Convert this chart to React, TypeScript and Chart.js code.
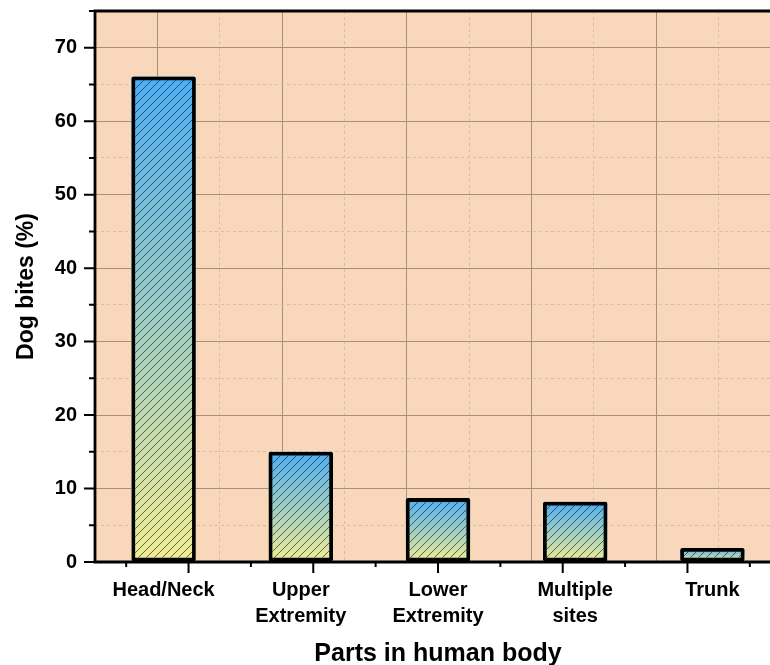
import React, { useEffect, useRef } from 'react';
import { Chart, registerables } from 'chart.js';

Chart.register(...registerables);

// ---- data ----
const categories: string[][] = [
  ['Head/Neck'],
  ['Upper', 'Extremity'],
  ['Lower', 'Extremity'],
  ['Multiple', 'sites'],
  ['Trunk'],
];
const biteShares: number[] = [66.1, 15.0, 8.7, 8.2, 1.9];
const yAxisMin = 0;
const yAxisMax = 75;
const yMinorStep = 5;
const yMajorStep = 10;
const xAxisTitle = 'Parts in human body';
const yAxisTitle = 'Dog bites (%)';

// ---- style ----
const FONT = "'Liberation Sans', Arial, Helvetica, sans-serif";
const PLOT_BG = '#F9D7BA';
const GRID_MAJOR = '#A88F7D';
const GRID_MINOR = '#D9BCA8';
const GRAD_TOP = '#4DAEF2';
const GRAD_BOTTOM = '#F1ED92';

const CANVAS_W = 781;
const CANVAS_H = 665;
const PLOT_TOP = 11;
const PLOT_BOTTOM = 562;
const PLOT_LEFT = 95;

function makeHatch(): CanvasPattern | string {
  const s = 8;
  const c = document.createElement('canvas');
  c.width = s;
  c.height = s;
  const g = c.getContext('2d');
  if (!g) return 'rgba(0,0,0,0)';
  g.strokeStyle = 'rgba(10,20,50,0.62)';
  g.lineWidth = 1;
  g.beginPath();
  g.moveTo(-1, s + 1);
  g.lineTo(s + 1, -1);
  g.moveTo(-1, 1);
  g.lineTo(1, -1);
  g.moveTo(s - 1, s + 1);
  g.lineTo(s + 1, s - 1);
  g.stroke();
  const p = g.createPattern(c, 'repeat');
  return p || 'rgba(0,0,0,0)';
}

const framePlugin = {
  id: 'framePlugin',
  beforeDraw(chart: any) {
    const { ctx, chartArea: a } = chart;
    if (!a) return;
    ctx.save();
    ctx.fillStyle = PLOT_BG;
    ctx.fillRect(a.left, a.top, a.right - a.left, a.bottom - a.top);
    ctx.restore();
  },
  afterDraw(chart: any) {
    const { ctx, chartArea: a, scales } = chart;
    if (!a) return;
    const y = scales.y;
    const x2 = scales.x2;
    ctx.save();
    ctx.strokeStyle = '#000';
    ctx.lineWidth = 2;
    ctx.beginPath();
    y.ticks.forEach((t: any) => {
      const p = y.getPixelForValue(t.value);
      const len = t.value % yMajorStep === 0 ? 11 : 6;
      ctx.moveTo(a.left - len, p);
      ctx.lineTo(a.left, p);
    });
    x2.ticks.forEach((t: any) => {
      const p = x2.getPixelForValue(t.value);
      const len = Number.isInteger(t.value) ? 11 : 5;
      ctx.moveTo(p, a.bottom);
      ctx.lineTo(p, a.bottom + len);
    });
    ctx.stroke();
    ctx.lineWidth = 2.8;
    ctx.lineCap = 'square';
    ctx.beginPath();
    ctx.moveTo(a.left, a.bottom);
    ctx.lineTo(a.left, a.top);
    ctx.lineTo(a.right, a.top);
    ctx.lineTo(a.right, a.bottom);
    ctx.moveTo(a.left, a.bottom);
    ctx.lineTo(a.right, a.bottom);
    ctx.stroke();
    ctx.restore();
  },
};

const zeroPad = (s: any) => {
  s.paddingTop = 0;
  s.paddingBottom = 0;
  s.paddingLeft = 0;
  s.paddingRight = 0;
};

export default function App() {
  const canvasRef = useRef<HTMLCanvasElement | null>(null);

  useEffect(() => {
    const canvas = canvasRef.current;
    if (!canvas) return;
    const hatch = makeHatch();

    const gradientFill = (c: any) => {
      const chart = c.chart;
      const area = chart.chartArea;
      const ys = chart.scales && chart.scales.y;
      if (!area || !ys || c.dataIndex === undefined) return GRAD_TOP;
      const v = c.raw as number;
      const top = ys.getPixelForValue(v);
      const bottom = ys.getPixelForValue(0);
      if (!isFinite(top) || !isFinite(bottom) || bottom - top < 1) return GRAD_TOP;
      const g = chart.ctx.createLinearGradient(0, top, 0, bottom);
      g.addColorStop(0, GRAD_TOP);
      g.addColorStop(1, GRAD_BOTTOM);
      return g;
    };

    const chart = new Chart(canvas, {
      type: 'bar',
      data: {
        labels: categories as any,
        datasets: [
          {
            label: 'hatch',
            data: biteShares,
            backgroundColor: hatch as any,
            borderColor: '#000',
            borderWidth: 3.8,
            borderSkipped: false,
            borderRadius: 2,
            grouped: false,
            order: 0,
            xAxisID: 'x',
            yAxisID: 'y',
            categoryPercentage: 1,
            barPercentage: 0.47,
          },
          {
            label: 'fill',
            data: biteShares,
            backgroundColor: gradientFill as any,
            borderWidth: 0,
            borderSkipped: false,
            borderRadius: 2,
            grouped: false,
            order: 1,
            xAxisID: 'x',
            yAxisID: 'y',
            categoryPercentage: 1,
            barPercentage: 0.47,
          },
        ],
      },
      options: {
        animation: false,
        responsive: false,
        maintainAspectRatio: false,
        devicePixelRatio: window.devicePixelRatio || 1,
        layout: { padding: { top: PLOT_TOP, right: 0, bottom: 0, left: 0 } },
        plugins: {
          legend: { display: false },
          tooltip: { enabled: false },
        },
        scales: {
          x: {
            type: 'category',
            position: 'bottom',
            offset: true,
            grid: { display: false, drawTicks: false },
            border: { display: false },
            ticks: {
              color: '#000',
              padding: 15,
              autoSkip: false,
              maxRotation: 0,
              minRotation: 0,
              font: { family: FONT, size: 20, weight: 'bold', lineHeight: 1.3 },
            },
            title: {
              display: true,
              text: xAxisTitle,
              color: '#000',
              padding: { top: 0, bottom: 0 },
              font: { family: FONT, size: 25, weight: 'bold', lineHeight: 0.88 },
            },
            afterFit: (s: any) => {
              s.height = CANVAS_H - PLOT_BOTTOM;
              zeroPad(s);
            },
          },
          x2: {
            type: 'linear',
            position: 'bottom',
            min: -0.5,
            max: categories.length - 0.5,
            grid: {
              drawTicks: false,
              lineWidth: 1,
              color: (c: any) =>
                c.tick && Number.isInteger(c.tick.value) ? GRID_MAJOR : GRID_MINOR,
            },
            border: {
              display: false,
              dash: (c: any) =>
                c.tick && !Number.isInteger(c.tick.value) ? [3, 3] : [],
            },
            ticks: { display: false, stepSize: 0.5 },
            afterFit: (s: any) => {
              s.height = 0;
              zeroPad(s);
            },
          },
          y: {
            type: 'linear',
            position: 'left',
            min: yAxisMin,
            max: yAxisMax,
            grid: {
              drawTicks: false,
              lineWidth: 1,
              color: (c: any) =>
                c.tick && c.tick.value % yMajorStep === 0 ? GRID_MAJOR : GRID_MINOR,
            },
            border: {
              display: false,
              dash: (c: any) =>
                c.tick && c.tick.value % yMajorStep !== 0 ? [3, 3] : [],
            },
            ticks: {
              stepSize: yMinorStep,
              autoSkip: false,
              color: '#000',
              padding: 18,
              font: { family: FONT, size: 20, weight: 'bold' },
              callback: (v: any) => (Number(v) % yMajorStep === 0 ? String(v) : ''),
            },
            title: {
              display: true,
              text: yAxisTitle,
              color: '#000',
              padding: { top: 13, bottom: 0 },
              font: { family: FONT, size: 23, weight: 'bold', lineHeight: 1.2 },
            },
            afterFit: (s: any) => {
              s.width = PLOT_LEFT;
              zeroPad(s);
            },
          },
        },
      } as any,
      plugins: [framePlugin],
    });

    return () => {
      chart.destroy();
    };
  }, []);

  return (
    <div
      style={{
        position: 'fixed',
        left: 0,
        top: 0,
        width: 770,
        height: CANVAS_H,
        overflow: 'hidden',
        background: '#fff',
      }}
    >
      <canvas
        ref={canvasRef}
        width={CANVAS_W}
        height={CANVAS_H}
        style={{ display: 'block', width: CANVAS_W, height: CANVAS_H }}
      />
    </div>
  );
}
